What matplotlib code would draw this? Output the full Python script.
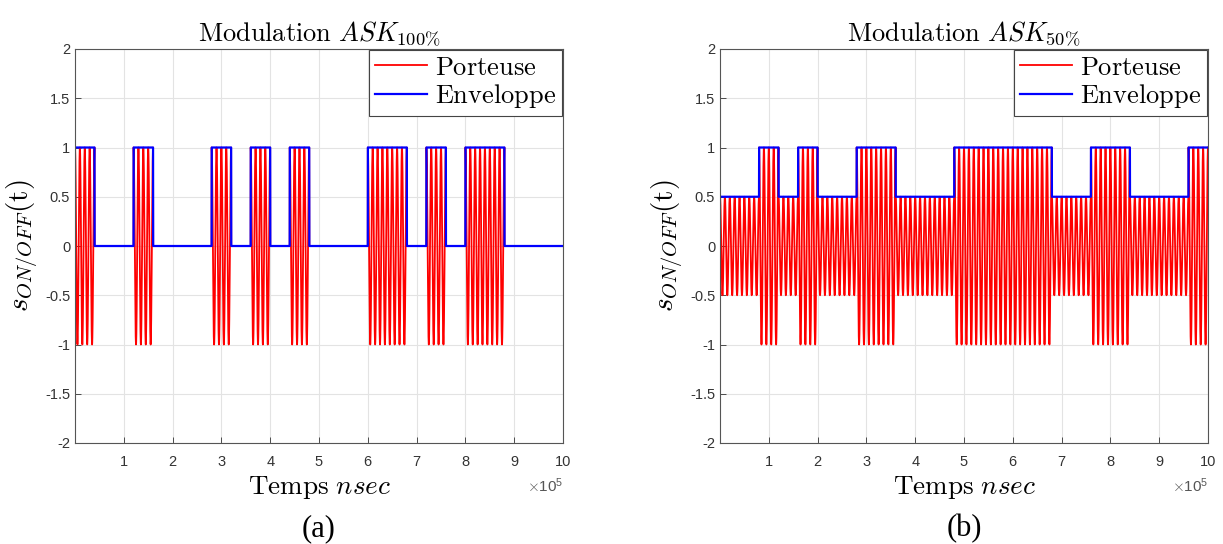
import numpy as np
import matplotlib.pyplot as plt

plt.rcParams['mathtext.fontset'] = 'cm'
plt.rcParams['font.family'] = 'Liberation Sans'

# bit sequences (25 bits, 0.4e5 ns each)
bits_a = [1, 0, 0, 1, 0, 0, 0, 1, 0, 1, 0, 1, 0, 0, 0, 1, 1, 0, 1, 0, 1, 1, 0, 0, 0]
bits_b = [0, 0, 1, 0, 1, 0, 0, 1, 1, 0, 0, 0, 1, 1, 1, 1, 1, 0, 0, 1, 1, 0, 0, 0, 1]
bit_time = 0.4e5
carrier_period = 1e4
low_level_a = 0.0
low_level_b = 0.5

titles = [r'$\mathrm{Modulation}\ ASK_{100\%}$', r'$\mathrm{Modulation}\ ASK_{50\%}$']
panel_labels = ['(a)', '(b)']


def signals(bits, low):
    n = len(bits)
    t = np.linspace(0, n * bit_time, 20001)
    idx = np.minimum((t // bit_time).astype(int), n - 1)
    env = np.where(np.array(bits)[idx] == 1, 1.0, low)
    carrier = env * np.cos(2 * np.pi * t / carrier_period)
    return t, env, carrier


fig = plt.figure(figsize=(12.23, 5.44), dpi=100)
ax1 = fig.add_axes([75 / 1223, 1 - 443 / 544, 488 / 1223, 394 / 544])
ax2 = fig.add_axes([720 / 1223, 1 - 443 / 544, 488 / 1223, 394 / 544])

for ax, bits, low, title, lab in zip([ax1, ax2], [bits_a, bits_b], [low_level_a, low_level_b],
                                     titles, panel_labels):
    t, env, car = signals(bits, low)
    ax.plot(t, car, color='red', lw=1.3, label=r'$\mathrm{Porteuse}$')
    ax.plot(t, env, color='blue', lw=1.6, label=r'$\mathrm{Enveloppe}$')
    ax.set_xlim(0, 1e6)
    ax.set_ylim(-2, 2)
    ax.set_xticks(np.arange(1, 11) * 1e5)
    ax.set_yticks(np.arange(-2, 2.01, 0.5))
    ax.xaxis.set_major_formatter(plt.FuncFormatter(lambda v, p: '%g' % (v / 1e5)))
    ax.yaxis.set_major_formatter(plt.FuncFormatter(lambda v, p: '%g' % v))
    ax.tick_params(labelsize=10.5, colors='#333333', direction='in', length=4, width=0.6)
    ax.tick_params(axis='x', pad=9)
    ax.grid(True, color='#e3e3e3', lw=0.8)
    ax.set_axisbelow(True)
    for s in ax.spines.values():
        s.set_color('#555555')
        s.set_linewidth(0.8)
    ax.text(1.0, -0.085, r'$\times\mathregular{10^5}$', transform=ax.transAxes,
            ha='right', va='top', fontsize=11, color='#555555')
    ax.set_title(title, fontsize=19, pad=6)
    ax.set_xlabel(r'$\mathrm{Temps}\ nsec$', fontsize=19.5, labelpad=3)
    ax.set_ylabel(r'$s_{ON/OFF}\mathrm{(t)}$', fontsize=21, labelpad=3)
    leg = ax.legend(loc='upper right', fontsize=19, fancybox=False, framealpha=1,
                    edgecolor='#444444', handlelength=2.0, borderaxespad=0.05,
                    borderpad=0.2, labelspacing=0.1, handletextpad=0.3)
    leg.get_frame().set_linewidth(0.8)
    ax.text(0.5, -0.18, lab, transform=ax.transAxes, ha='center', va='top',
            fontsize=22, family='Liberation Serif')

fig.savefig('out.png', dpi=100)
